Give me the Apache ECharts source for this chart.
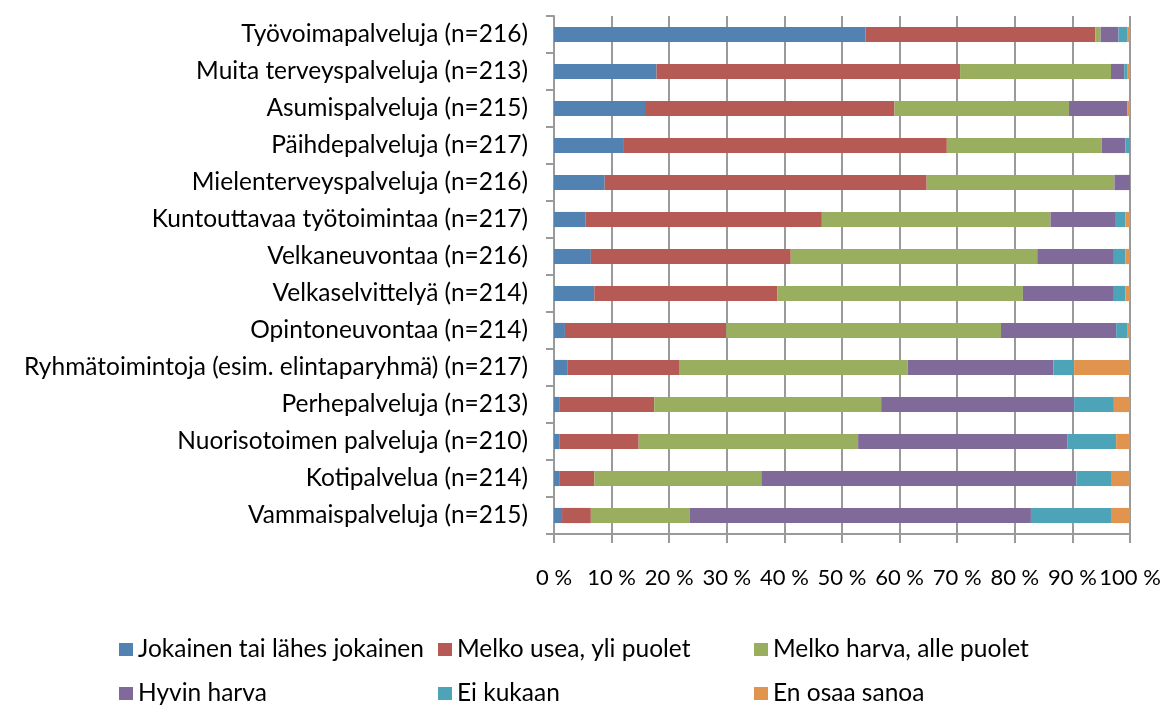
<!DOCTYPE html>
<html>
<head>
<meta charset="utf-8">
<script src="https://cdn.jsdelivr.net/npm/echarts@6/dist/echarts.min.js"></script>
<style>
html,body{margin:0;padding:0;background:#fff;}
#chart{width:1166px;height:706px;}
</style>
</head>
<body>
<div id="chart"></div>
<script>
const categories = [
  "Työvoimapalveluja (n=216)",
  "Muita terveyspalveluja (n=213)",
  "Asumispalveluja (n=215)",
  "Päihdepalveluja (n=217)",
  "Mielenterveyspalveluja (n=216)",
  "Kuntouttavaa työtoimintaa (n=217)",
  "Velkaneuvontaa (n=216)",
  "Velkaselvittelyä (n=214)",
  "Opintoneuvontaa (n=214)",
  "Ryhmätoimintoja (esim. elintaparyhmä) (n=217)",
  "Perhepalveluja (n=213)",
  "Nuorisotoimen palveluja (n=210)",
  "Kotipalvelua (n=214)",
  "Vammaispalveluja (n=215)"
];
const seriesNames = [
  "Jokainen tai lähes jokainen",
  "Melko usea, yli puolet",
  "Melko harva, alle puolet",
  "Hyvin harva",
  "Ei kukaan",
  "En osaa sanoa"
];
const jokainen   = [54.1, 17.8, 15.8, 12.0, 8.8, 5.5, 6.4, 7.0, 1.9, 2.3, 0.9, 1.0, 0.9, 1.4];
const melkoUsea  = [39.9, 52.7, 43.3, 56.2, 55.9, 41.0, 34.7, 31.8, 28.0, 19.4, 16.5, 13.7, 6.1, 5.0];
const melkoHarva = [0.9, 26.2, 30.3, 26.9, 32.6, 39.7, 42.8, 42.6, 47.7, 39.7, 39.4, 38.1, 29.0, 17.2];
const hyvinHarva = [3.1, 2.3, 10.1, 4.1, 2.7, 11.2, 13.3, 15.8, 20.0, 25.3, 33.5, 36.3, 54.7, 59.2];
const eiKukaan   = [1.5, 0.5, 0.0, 0.8, 0.0, 1.8, 2.0, 2.0, 1.9, 3.6, 6.9, 8.5, 6.0, 13.9];
const enOsaa     = [0.5, 0.5, 0.5, 0.0, 0.0, 0.8, 0.8, 0.8, 0.5, 9.7, 2.8, 2.4, 3.3, 3.3];
const xTicks = [0, 10, 20, 30, 40, 50, 60, 70, 80, 90, 100];

const values = [jokainen, melkoUsea, melkoHarva, hyvinHarva, eiKukaan, enOsaa];
const colors = ["#5282B1", "#B55A55", "#99AE5F", "#806A9A", "#4DA3B8", "#E0944E"];
const FONT = "Lato";
const FS = 24.5;

const chart = echarts.init(document.getElementById('chart'));
const legendBase = {
  orient: 'vertical',
  top: 637,
  padding: 0,
  itemWidth: 14,
  itemHeight: 13,
  itemGap: 19,
  icon: 'rect',
  textStyle: {fontFamily: FONT, fontSize: FS, color: '#000', lineHeight: 25}
};
chart.setOption({
  animation: false,
  color: colors,
  textStyle: {fontFamily: FONT},
  grid: {left: 554, right: 36, top: 16, height: 518, containLabel: false},
  legend: [
    Object.assign({}, legendBase, {left: 119, data: [seriesNames[0], seriesNames[3]]}),
    Object.assign({}, legendBase, {left: 438, data: [seriesNames[1], seriesNames[4]]}),
    Object.assign({}, legendBase, {left: 754, data: [seriesNames[2], seriesNames[5]]})
  ],
  xAxis: {
    type: 'value', min: xTicks[0], max: xTicks[xTicks.length-1], interval: 10,
    axisLine: {show: true, lineStyle: {color: '#9a9a9a', width: 2}},
    axisTick: {show: true, length: 9, lineStyle: {color: '#9a9a9a', width: 2}},
    splitLine: {show: true, lineStyle: {color: '#9a9a9a', width: 2}},
    axisLabel: {formatter: '{value} %', fontFamily: FONT, fontSize: 22, color: '#000', margin: 33,
      showMinLabel: true, showMaxLabel: true, hideOverlap: false}
  },
  yAxis: {
    type: 'category', data: categories, inverse: true,
    axisLine: {show: true, lineStyle: {color: '#9a9a9a', width: 2}},
    axisTick: {show: true, length: 8, lineStyle: {color: '#9a9a9a', width: 2}},
    axisLabel: {fontFamily: FONT, fontSize: FS, color: '#000', margin: 26}
  },
  series: values.map((v, i) => ({
    name: seriesNames[i], type: 'bar', stack: 'total', data: v,
    barWidth: '41%',
    itemStyle: {color: colors[i]}
  }))
});
</script>
</body>
</html>
